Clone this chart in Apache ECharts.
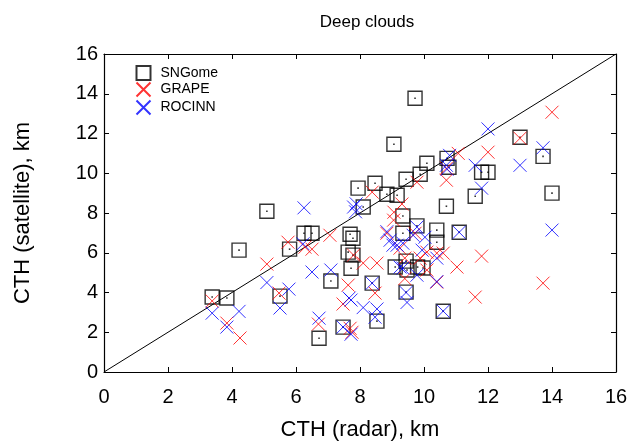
<!DOCTYPE html>
<html><head><meta charset="utf-8">
<script src="https://cdn.jsdelivr.net/npm/echarts@6/dist/echarts.min.js"></script>
<style>html,body{margin:0;padding:0;background:#fff}#c{width:634px;height:447px}</style>
</head><body><div id="c"></div>
<script>
const titleText = 'Deep clouds';
const xName = 'CTH (radar), km';
const yName = 'CTH (satellite), km';
const axisTicks = [0,2,4,6,8,10,12,14,16];
const seriesNames = ['SNGome','GRAPE','ROCINN'];
const oneToOne = [[0,0],[16,16]];

const sngome = [
 [9.72,13.77],[9.06,11.46],[5.09,8.09],[4.22,6.13],[3.38,3.77],[3.84,3.72],[5.8,6.18],[6.25,6.98],[6.5,6.98],
 [5.5,3.82],[6.72,1.7],[7.69,6.93],[7.78,6.73],[7.63,6.03],[7.78,5.88],[7.72,5.22],[7.09,4.58],[7.47,2.26],
 [8.38,4.47],[8.53,2.56],[13.0,11.81],[13.72,10.85],[14.0,9.0],[10.09,10.5],[9.88,9.95],[9.44,9.7],[10.72,10.75],
 [10.78,10.3],[11.8,10.05],[12.0,10.05],[11.6,8.84],[10.7,8.34],[7.94,9.25],[8.47,9.5],[8.84,8.94],[9.16,8.89],
 [8.1,8.3],[9.34,7.85],[9.78,7.35],[10.4,7.14],[10.4,6.53],[9.34,6.98],[9.1,5.28],[9.44,5.58],[9.47,5.13],
 [9.8,5.28],[9.97,5.23],[9.44,4.02],[10.6,3.06],[11.1,7.03]
];
const grape = [
 [3.38,3.57],[3.84,2.46],[4.25,1.71],[5.09,5.43],[5.47,3.97],[5.75,6.53],[6.28,6.28],[6.5,6.18],[7.06,6.88],
 [6.7,2.41],[7.8,5.88],[7.63,4.37],[7.47,3.42],[7.69,2.2],[7.75,2.0],[8.1,5.48],[8.53,5.48],[8.47,3.97],
 [8.38,9.05],[9.78,9.55],[9.31,8.45],[9.06,8.04],[9.05,7.64],[8.84,6.98],[9.72,6.98],[9.4,5.73],[9.88,5.73],
 [10.4,5.98],[10.6,5.98],[11.8,5.83],[13.72,4.47],[11.6,3.77],[9.4,4.7],[10.4,4.52],[10.09,5.13],[11.03,5.28],
 [14.0,13.07],[13.0,11.76],[12.0,11.06],[11.07,11.0],[10.7,10.25],[10.7,9.65],[9.25,6.23],[10.09,6.03]
];
const rocinn = [
 [3.38,2.96],[3.84,2.26],[4.22,3.05],[5.09,4.5],[5.5,3.22],[5.78,4.17],[6.25,8.26],[6.22,6.45],[6.5,5.03],
 [7.09,5.13],[6.72,2.71],[7.47,2.26],[7.72,1.9],[7.66,3.72],[7.72,3.62],[7.8,8.3],[7.86,8.06],[7.88,8.46],
 [8.1,3.24],[8.53,3.17],[8.47,2.76],[8.38,4.47],[8.84,7.06],[8.94,6.63],[9.16,6.38],[9.34,6.48],[9.03,6.38],
 [9.78,7.29],[9.66,6.88],[10.03,6.78],[9.94,6.13],[10.4,5.73],[9.25,5.28],[9.78,4.87],[10.4,4.55],[9.44,4.0],
 [9.47,3.5],[10.6,3.06],[11.1,7.03],[14.0,7.14],[12.0,12.23],[13.72,11.28],[13.0,10.4],[11.6,10.4],[11.8,9.25],
 [10.8,10.9],[10.7,10.4],[10.72,10.2],[9.34,5.23]
];

const FONT = 'Liberation Sans, Arial, sans-serif';
const X_SYM = 'path://M0,0L10,10M10,0L0,10';
const chart = echarts.init(document.getElementById('c'), null, {renderer:'canvas'});
const mkAxis = (dim, pos, showLabel, name) => ({
  type:'value', position:pos, min:axisTicks[0], max:axisTicks[axisTicks.length-1], interval:axisTicks[1]-axisTicks[0],
  name: name || '', nameLocation:'middle',
  nameGap: dim==='x' ? 47 : 70,
  nameTextStyle:{fontFamily:FONT, fontSize:22, color:'#000'},
  axisLine:{show:true, onZero:false, lineStyle:{color:'#000', width:1.2}},
  axisTick:{show:true, inside:true, length:5, lineStyle:{color:'#000', width:1}},
  axisLabel:{show:showLabel, fontFamily:FONT, fontSize:20, color:'#000', margin: dim==='x'?15:6},
  splitLine:{show:false}
});
chart.setOption({
  animation:false,
  backgroundColor:'#fff',
  title:{text:titleText, left:362, textAlign:'center', top:9, textStyle:{fontFamily:FONT, fontSize:17, fontWeight:'normal', color:'#000'}},
  grid:{left:104, right:18, top:54, bottom:75, show:false},
  legend:{
    left:129, top:60, orient:'vertical', itemGap:-1, itemWidth:14, itemHeight:14,
    textStyle:{fontFamily:FONT, fontSize:14, color:'#000', padding:[0,0,0,5]},
    data: seriesNames
  },
  xAxis:[mkAxis('x','bottom',true,xName), mkAxis('x','top',false)],
  yAxis:[mkAxis('y','left',true,yName), mkAxis('y','right',false)],
  series:[
    {type:'line', data:oneToOne, symbol:'none', lineStyle:{color:'#000', width:1}, silent:true, z:1},
    {name:seriesNames[0], type:'scatter', data:sngome, symbol:'rect', symbolSize:14,
     itemStyle:{color:'rgba(0,0,0,0)', borderColor:'#000', borderWidth:1.4}, z:3},
    {type:'scatter', data:sngome, symbol:'rect', symbolSize:1.6, itemStyle:{color:'#000'}, silent:true, z:3},
    {name:seriesNames[1], type:'scatter', data:grape, symbol:X_SYM, symbolSize:13,
     itemStyle:{color:'none', borderColor:'#ff0000', borderWidth:1}, z:4},
    {name:seriesNames[2], type:'scatter', data:rocinn, symbol:X_SYM, symbolSize:13,
     itemStyle:{color:'none', borderColor:'#0000ff', borderWidth:1}, z:5}
  ]
});
</script></body></html>
